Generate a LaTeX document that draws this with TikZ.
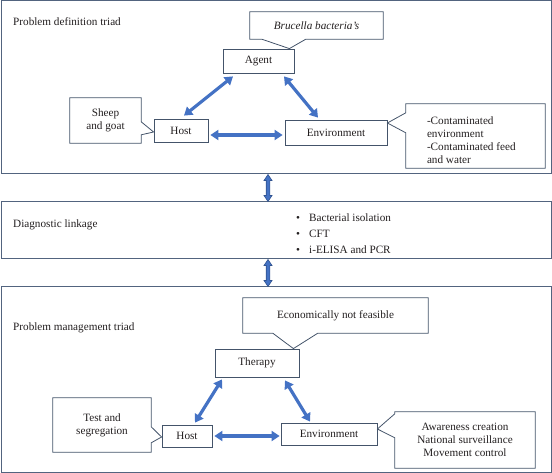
\documentclass[tikz,border=0pt]{standalone}
\usepackage{fontspec}
\setmainfont{Liberation Serif}
\usetikzlibrary{arrows.meta,calc}
\definecolor{boxline}{HTML}{44546A}
\definecolor{sectline}{HTML}{52647F}
\definecolor{arrowblue}{HTML}{4472C4}
\definecolor{arrowdark}{HTML}{2F528F}
\definecolor{txt}{HTML}{231F20}
\newcommand{\updownlink}[2]{%
  \draw[vlink] (#1) -- ($(#1)+(4,6)$) -- ($(#1)+(1.8,6)$) -- ($(#2)+(1.8,-6)$) -- ($(#2)+(4,-6)$) -- (#2)
    -- ($(#2)+(-4,-6)$) -- ($(#2)+(-1.8,-6)$) -- ($(#1)+(-1.8,6)$) -- ($(#1)+(-4,6)$) -- cycle;}
\begin{document}
\begin{tikzpicture}[x=1pt,y=-1pt,
  every node/.style={font=\fontsize{11.2}{13}\selectfont, text=txt, inner sep=0pt},
  section/.style={draw=sectline, line width=1pt, minimum width=550pt},
  tribox/.style={draw=boxline, line width=0.8pt},
  callshape/.style={draw=boxline, line width=0.8pt, line join=miter},
  link/.style={draw=arrowblue, line width=3.2pt, {Triangle[length=8pt,width=10pt]}-{Triangle[length=8pt,width=10pt]}},
  vlink/.style={fill=arrowblue, draw=arrowdark, line width=0.6pt, line join=miter}
]
\useasboundingbox (0,0) rectangle (552,473);

% sections
\node[section, minimum height=173pt] (topbox) at (276,87.5) {};
\node[section, minimum height=57pt] (midbox) at (276,230.5) {};
\node[section, minimum height=185pt] (botbox) at (276,379.5) {};

% titles
\node[anchor=west] (t1) at (13,22) {Problem definition triad};
\node[anchor=west] (t2) at (13,225) {Diagnostic linkage};
\node[anchor=west] (t3) at (13,328) {Problem management triad};

\node[anchor=west, align=left, font=\fontsize{11.2}{16}\selectfont] (diag) at (296,234)
  {\makebox[13pt][l]{\textbullet}Bacterial isolation\\
   \makebox[13pt][l]{\textbullet}CFT\\
   \makebox[13pt][l]{\textbullet}i-ELISA and PCR};

% top triad
\node[tribox, minimum width=71pt, minimum height=24pt] (agent) at (258.5,61) {Agent};
\node[tribox, minimum width=54pt, minimum height=23pt] (host1) at (181,130.5) {Host};
\node[tribox, minimum width=102pt, minimum height=25pt] (env1) at (336,132.5) {Environment};

% bottom triad
\node[tribox, minimum width=84pt, minimum height=28pt] (therapy) at (257,363) {Therapy};
\node[tribox, minimum width=50pt, minimum height=22pt] (host2) at (187,436) {Host};
\node[tribox, minimum width=96pt, minimum height=22pt] (env2) at (329,434) {Environment};

% callouts top
\node[minimum width=133pt, minimum height=27pt, font=\fontsize{11.2}{13}\selectfont\itshape] (bru) at (316.5,25.5) {Brucella bacteria’s};
\coordinate (tbru) at ($(agent.north east)+(-5,0)$);
\draw[callshape] (bru.north west) -- (bru.north east) -- (bru.south east) -- ($(bru.south west)+(56,0)$)
  -- (tbru) -- ($(bru.south west)+(12,0)$) -- (bru.south west) -- cycle;

\node[minimum width=71pt, minimum height=45pt, align=center] (sheep) at (105.5,120.5) {Sheep\\and goat};
\coordinate (tsheep) at ($(host1.west)+(0,1.5)$);
\draw[callshape] (sheep.north west) -- (sheep.north east) -- ($(sheep.north east)+(0,24)$) -- (tsheep)
  -- ($(sheep.north east)+(0,37)$) -- (sheep.south east) -- (sheep.south west) -- cycle;

\node[minimum width=139pt, minimum height=64pt] (envc1) at (475.5,136) {};
\node[anchor=north west, align=left] (envc1t) at ($(envc1.north west)+(21,13)$)
  {-Contaminated\\environment\\-Contaminated feed\\and water};
\coordinate (tenv1) at ($(env1.east)+(0,-9.5)$);
\draw[callshape] (envc1.north west) -- (envc1.north east) -- (envc1.south east) -- (envc1.south west)
  -- ($(envc1.north west)+(0,29)$) -- (tenv1) -- ($(envc1.north west)+(0,9)$) -- cycle;

% callouts bottom
\node[minimum width=185pt, minimum height=35pt] (econ) at (335.5,315.5) {Economically not feasible};
\coordinate (tecon) at ($(therapy.north east)+(-6,0)$);
\draw[callshape] (econ.north west) -- (econ.north east) -- (econ.south east) -- ($(econ.south west)+(75,0)$)
  -- (tecon) -- ($(econ.south west)+(30,0)$) -- (econ.south west) -- cycle;

\node[minimum width=98pt, minimum height=54pt, align=center] (test) at (102,425) {Test and\\segregation};
\coordinate (ttest) at ($(host2.west)+(0,1)$);
\draw[callshape] (test.north west) -- (test.north east) -- ($(test.north east)+(0,29)$) -- (ttest)
  -- ($(test.north east)+(0,45)$) -- (test.south east) -- (test.south west) -- cycle;

\node[minimum width=140pt, minimum height=56pt, align=center] (envc2) at (465,440)
  {Awareness creation\\National surveillance\\Movement control};
\coordinate (tenv2) at ($(env2.east)+(0,-5)$);
\draw[callshape] (envc2.north west) -- (envc2.north east) -- (envc2.south east) -- (envc2.south west)
  -- ($(envc2.north west)+(0,26)$) -- (tenv2) -- ($(envc2.north west)+(0,2)$) -- cycle;

% triad links
\draw[link] ($(host1.north)+(3,-3)$) -- ($(agent.south)+(-25.5,3)$);
\draw[link] ($(agent.south)+(25.5,3)$) -- ($(env1.north)+(-18,-2)$);
\draw[link] ($(host1.east)+(2,4.5)$) -- ($(env1.west)+(-2,2.5)$);
\draw[link] ($(host2.north)+(8,-2)$) -- ($(therapy.south)+(-35,2)$);
\draw[link] ($(therapy.south)+(28,3)$) -- ($(env2.north)+(-19,-1)$);
\draw[link] ($(host2.east)+(2,0)$) -- ($(env2.west)+(-1,2)$);

% vertical links
\coordinate (va1) at ($(topbox.south)+(-8,0)$);
\coordinate (vb1) at ($(midbox.north)+(-8,0)$);
\coordinate (va2) at ($(midbox.south)+(-8,0)$);
\coordinate (vb2) at ($(botbox.north)+(-8,0)$);
\updownlink{va1}{vb1}
\updownlink{va2}{vb2}
\end{tikzpicture}
\end{document}
